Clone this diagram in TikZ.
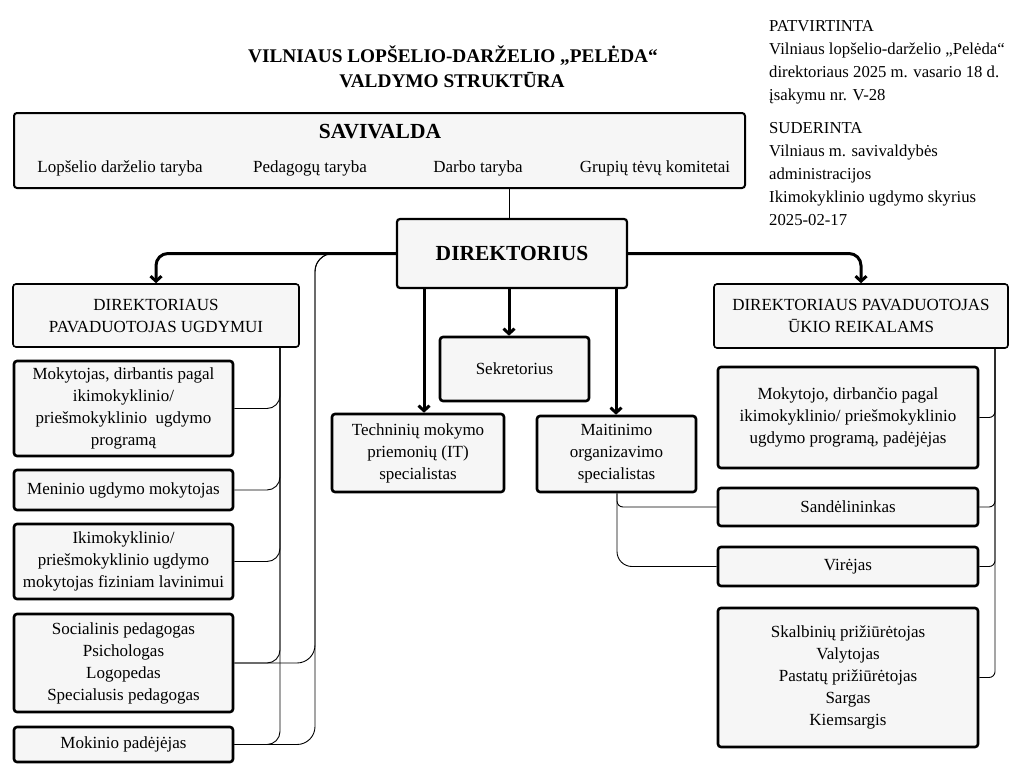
\documentclass[tikz,border=0pt]{standalone}
\usepackage{fontspec}
\setmainfont{Liberation Serif}
\usetikzlibrary{arrows.meta}
\definecolor{boxgray}{gray}{0.965}
\begin{document}
\begin{tikzpicture}[x=1pt,y=-1pt,
 bx/.style={draw, fill=boxgray, rounded corners=3pt, align=center, inner sep=0pt, font=\fontsize{17}{22}\selectfont},
 thickbox/.style={bx, line width=2.6pt},
 thinbox/.style={bx, line width=1.6pt},
 txt/.style={inner sep=0pt, anchor=base, font=\fontsize{17}{22}\selectfont},
 bigbold/.style={inner sep=0pt, font=\fontsize{21.5}{26}\selectfont\bfseries},
 bus/.style={line width=0.9pt},
 mainarrow/.style={line width=3pt, -{Straight Barb[length=5pt,width=11pt]}},
 ]
\useasboundingbox (0,0) rectangle (1024,768);

% title
\node[inner sep=0pt, font=\fontsize{19.3}{24}\selectfont\bfseries] (t1) at (453,56) {VILNIAUS LOPŠELIO-DARŽELIO „PELĖDA“};
\node[inner sep=0pt, font=\fontsize{19.3}{24}\selectfont\bfseries] (t2) at (452,80) {VALDYMO STRUKTŪRA};

% approval notes
\node[inner sep=0pt, anchor=north west, align=left, font=\fontsize{16.7}{23}\selectfont] (pat) at (769,20)
 {PATVIRTINTA\\Vilniaus lopšelio-darželio „Pelėda“\\direktoriaus 2025 m. vasario 18 d.\\įsakymu nr. V-28};
\node[inner sep=0pt, anchor=north west, align=left, font=\fontsize{16.7}{23}\selectfont] (sud) at (769,122)
 {SUDERINTA\\Vilniaus m. savivaldybės\\administracijos\\Ikimokyklinio ugdymo skyrius\\2025-02-17};

% SAVIVALDA
\node[thinbox, line width=2pt, minimum width=731pt, minimum height=75pt] (sav) at (379.5,150.5) {};
\node[bigbold] (savt) at (380,132) {SAVIVALDA};
\node[txt] (s1) at (120,172) {Lopšelio darželio taryba};
\node[txt] (s2) at (310,172.5) {Pedagogų taryba};
\node[txt] (s3) at (478,172) {Darbo taryba};
\node[txt] (s4) at (655,172) {Grupių tėvų komitetai};

% DIREKTORIUS
\node[thinbox, line width=2.2pt, minimum width=230pt, minimum height=69pt, font=\fontsize{21.5}{26}\selectfont\bfseries] (dir) at (512,253.5) {DIREKTORIUS};

% deputies
\node[thinbox, minimum width=286pt, minimum height=63pt] (pu) at (156,315.5) {DIREKTORIAUS\\PAVADUOTOJAS UGDYMUI};
\node[thinbox, minimum width=294pt, minimum height=64pt] (uk) at (861,316) {DIREKTORIAUS PAVADUOTOJAS\\ŪKIO REIKALAMS};

% left column
\node[thickbox, minimum width=219pt, minimum height=95pt] (m1) at (123.5,408.5) {Mokytojas, dirbantis pagal\\ikimokyklinio/\\priešmokyklinio\ \ ugdymo\\programą};
\node[thickbox, minimum width=219pt, minimum height=40pt] (m2) at (123.5,490) {Meninio ugdymo mokytojas};
\node[thickbox, minimum width=219pt, minimum height=75pt] (m3) at (123.5,561.5) {Ikimokyklinio/\\priešmokyklinio ugdymo\\mokytojas fiziniam lavinimui};
\node[thickbox, minimum width=219pt, minimum height=98pt] (m4) at (123.5,663) {Socialinis pedagogas\\Psichologas\\Logopedas\\Specialusis pedagogas};
\node[thickbox, minimum width=219pt, minimum height=35pt] (m5) at (123.5,744.5) {Mokinio padėjėjas};

% middle
\node[thickbox, minimum width=149pt, minimum height=64pt] (sek) at (514.5,369) {Sekretorius};
\node[thickbox, minimum width=172pt, minimum height=78pt] (tech) at (418,453) {Techninių mokymo\\priemonių (IT)\\specialistas};
\node[thickbox, minimum width=159pt, minimum height=76pt] (mait) at (616.5,454) {Maitinimo\\organizavimo\\specialistas};

% right column
\node[thickbox, minimum width=260pt, minimum height=101pt] (r1) at (848,417.5) {Mokytojo, dirbančio pagal\\ikimokyklinio/ priešmokyklinio\\ugdymo programą, padėjėjas};
\node[thickbox, minimum width=260pt, minimum height=38pt] (r2) at (848,507) {Sandėlininkas};
\node[thickbox, minimum width=260pt, minimum height=39pt] (r3) at (848,566.5) {Virėjas};
\node[thickbox, minimum width=260pt, minimum height=139pt] (r4) at (848,677.5) {Skalbinių prižiūrėtojas\\Valytojas\\Pastatų prižiūrėtojas\\Sargas\\Kiemsargis};

% helper coordinates
\coordinate (cx) at (509,0);
\coordinate (a1) at (424,0);
\coordinate (a2) at (509,0);
\coordinate (a3) at (616,0);
\coordinate (lb) at (280,0);
\coordinate (lb2) at (315,0);
\coordinate (lb2s) at (336,0);
\coordinate (mb) at (617,0);
\coordinate (rb) at (995,0);

% connectors
\draw[bus] (sav.south -| cx) -- (dir.north -| cx);
\draw[mainarrow, rounded corners=12pt] (dir.west) -| (pu.north);
\draw[mainarrow, rounded corners=12pt] (dir.east) -| (uk.north);
\draw[mainarrow] (dir.south -| a1) -- (tech.north -| a1);
\draw[mainarrow] (dir.south -| a2) -- (sek.north -| a2);
\draw[mainarrow] (dir.south -| a3) -- (mait.north -| a3);

\foreach \n in {m1,m2,m3,m4,m5}
  \draw[bus, rounded corners=13pt] (pu.south -| lb) |- (\n.east);
\foreach \n in {m4,m5}
  \draw[bus, rounded corners=18pt] (dir.west -| lb2s) -| (\n.east -| lb2) -- (\n.east);

\draw[bus, rounded corners=6pt] (mait.south -| mb) |- (r2.west);
\draw[bus, rounded corners=15pt] (mait.south -| mb) |- (r3.west);

\foreach \n in {r1,r2,r3,r4}
  \draw[bus, rounded corners=6pt] (uk.south -| rb) |- (\n.east);
\end{tikzpicture}
\end{document}
